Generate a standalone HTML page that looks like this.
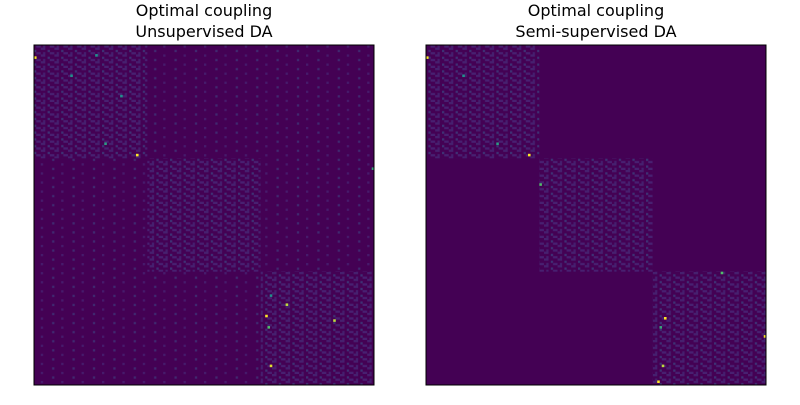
<!DOCTYPE html>
<html><head><meta charset="utf-8">
<style>
body{margin:0;background:#fff;width:800px;height:400px;overflow:hidden}
svg text{font-family:"DejaVu Sans","Liberation Sans",sans-serif;font-size:16px;fill:#000}
</style></head>
<body>
<svg id="chart" width="800" height="400">
<defs>
<pattern id="tex" width="13.6" height="6.8" patternUnits="userSpaceOnUse">
<rect x="0" y="0" width="13.6" height="6.8" fill="#440154"/>
<rect x="0" y="0" width="4.5" height="2.27" fill="#472d7b" opacity="0.7"/>
<rect x="6.8" y="2.27" width="2.27" height="2.27" fill="#3b528b" opacity="0.6"/>
<rect x="9" y="4.54" width="4.5" height="2.27" fill="#482878" opacity="0.8"/>
<rect x="2.27" y="4.54" width="2.27" height="2.27" fill="#46327e" opacity="0.6"/>
</pattern>
<pattern id="tex2" width="20.4" height="9.07" patternUnits="userSpaceOnUse">
<rect x="0" y="0" width="20.4" height="9.07" fill="#440154"/>
<rect x="0" y="0" width="2.27" height="2.27" fill="#472d7b" opacity="0.6"/>
<rect x="11.3" y="4.54" width="2.27" height="2.27" fill="#3b528b" opacity="0.5"/>
</pattern>
</defs>
</svg>
<script>
// Data: 150 samples in 3 classes
const nSamples = 150;
const classStarts = [0, 50, 100];
const classEnds = [50, 100, 150];
// bright cells [row, col, value 0..1]
const leftCells = [[5,0,1.0],[48,45,1.0],[54,149,0.6],[119,102,1.0],[141,104,0.95],[114,111,0.9],[124,103,0.7],[43,31,0.55],[13,16,0.5],[110,104,0.5],[121,132,0.9],[22,38,0.5],[4,27,0.5]];
const rightCells = [[5,0,1.0],[48,45,1.0],[43,31,0.55],[120,105,1.0],[124,103,0.6],[148,102,1.0],[128,149,1.0],[141,104,0.9],[13,16,0.5],[100,130,0.7],[61,50,0.7]];
// leakage regions (unsupervised only) [rowStart,rowEnd,colStart,colEnd]
const leftLeak = [[0,150,0,150]];
const panels = [
  {name:"unsupervised", x:34, title:["Optimal coupling","Unsupervised DA"], cells:leftCells, leak:leftLeak},
  {name:"semi-supervised", x:426, title:["Optimal coupling","Semi-supervised DA"], cells:rightCells, leak:[]}
];
const plotTop = 45, plotSize = 340;
const svgEl = document.getElementById('chart');
const NS = "http://www.w3.org/2000/svg";
function viridis(v){
  const stops=[[68,1,84],[59,82,139],[33,145,140],[94,201,98],[253,231,37]];
  const t=Math.max(0,Math.min(1,v))*(stops.length-1);const i=Math.min(Math.floor(t),stops.length-2);const f=t-i;
  const c=stops[i].map((a,k)=>Math.round(a+(stops[i+1][k]-a)*f));return `rgb(${c})`;
}
panels.forEach(p=>{
  const cs = plotSize/nSamples;
  const sx = c=>p.x+c*cs, sy = r=>plotTop+r*cs;
  const g=document.createElementNS(NS,'g');
  
  
  svgEl.appendChild(g);
  const bg=document.createElementNS(NS,'rect');
  bg.setAttribute('x',p.x);bg.setAttribute('y',plotTop);bg.setAttribute('width',plotSize);bg.setAttribute('height',plotSize);bg.setAttribute('fill','#440154');
  
  
  g.appendChild(bg);
  p.leak.forEach(l=>{
    const r=document.createElementNS(NS,'rect');
    r.setAttribute('x',sx(l[2]));r.setAttribute('y',sy(l[0]));r.setAttribute('width',(l[3]-l[2])*cs);r.setAttribute('height',(l[1]-l[0])*cs);r.setAttribute('fill','url(#tex2)');
    
    
    g.appendChild(r);
  });
  classStarts.forEach((s,i)=>{
    const e=classEnds[i];
    const r=document.createElementNS(NS,'rect');
    r.setAttribute('x',sx(s));r.setAttribute('y',sy(s));r.setAttribute('width',(e-s)*cs);r.setAttribute('height',(e-s)*cs);r.setAttribute('fill','url(#tex)');
    
    
    g.appendChild(r);
  });
  p.cells.forEach(c=>{
    const r=document.createElementNS(NS,'rect');
    r.setAttribute('x',sx(c[1]));r.setAttribute('y',sy(c[0]));r.setAttribute('width',cs+0.3);r.setAttribute('height',cs+0.3);r.setAttribute('fill',viridis(c[2]));
    
    
    g.appendChild(r);
  });
  const fr=document.createElementNS(NS,'rect');
  fr.setAttribute('x',p.x);fr.setAttribute('y',plotTop);fr.setAttribute('width',plotSize);fr.setAttribute('height',plotSize);fr.setAttribute('fill','none');fr.setAttribute('stroke','#000');fr.setAttribute('stroke-width','1');
  
  
  g.appendChild(fr);
  p.title.forEach((t,i)=>{
    const tx=document.createElementNS(NS,'text');
    tx.setAttribute('x',p.x+plotSize/2);tx.setAttribute('y',16+i*21);tx.setAttribute('text-anchor','middle');tx.textContent=t;
    
    
    g.appendChild(tx);
  });
});
</script>
</body></html>
